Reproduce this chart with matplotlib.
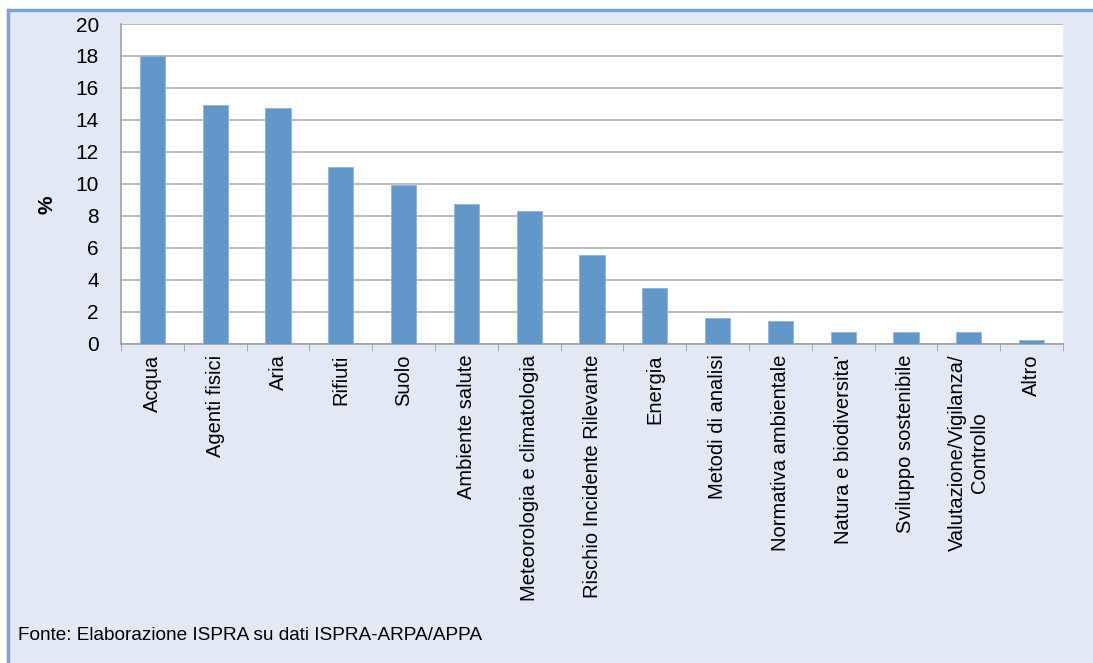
import numpy as np
import matplotlib.pyplot as plt
from matplotlib.patches import Rectangle

categories = ["Acqua", "Agenti fisici", "Aria", "Rifiuti", "Suolo", "Ambiente salute",
              "Meteorologia e climatologia", "Rischio Incidente Rilevante", "Energia",
              "Metodi di analisi", "Normativa ambientale", "Natura e biodiversita'",
              "Sviluppo sostenibile", "Valutazione/Vigilanza/\nControllo", "Altro"]
values = [18.0, 14.95, 14.75, 11.05, 9.9, 8.75, 8.3, 5.55, 3.45, 1.6, 1.4, 0.7, 0.7, 0.7, 0.22]
yticks = [0, 2, 4, 6, 8, 10, 12, 14, 16, 18, 20]
source = "Fonte: Elaborazione ISPRA su dati ISPRA-ARPA/APPA"

plt.rcParams['font.family'] = ['Liberation Sans', 'DejaVu Sans']

bg = '#E2E9F5'
fig = plt.figure(figsize=(10.93, 6.63), dpi=100, facecolor='white')

# outer panel with blue border on top and left
fig.patches.append(Rectangle((8 / 1093, 0), 1 - 8 / 1093, 1 - 10 / 663, transform=fig.transFigure,
                             facecolor=bg, edgecolor='none', zorder=-10))
fig.add_artist(plt.Line2D([8 / 1093, 1], [1 - 10 / 663] * 2, transform=fig.transFigure,
                          color='#7BA3D8', lw=2.5))
fig.add_artist(plt.Line2D([8 / 1093] * 2, [0, 1 - 10 / 663], transform=fig.transFigure,
                          color='#7BA3D8', lw=2.5))

ax = fig.add_axes([121 / 1093, 1 - 343.5 / 663, (1063 - 121) / 1093, (343.5 - 24) / 663])
ax.set_facecolor('white')

x = np.arange(len(categories))
ax.bar(x, values, width=0.4, color='#6297C9', edgecolor='#8DB3DC', linewidth=0.6, zorder=3)

ax.set_xlim(-0.5, len(categories) - 0.5)
ax.set_ylim(0, 20)
ax.set_yticks(yticks)
ax.set_yticklabels([str(t) for t in yticks], fontsize=15)
ax.yaxis.grid(True, color='#B0B0B0', linewidth=1.2, zorder=0)
ax.tick_params(axis='y', length=0, pad=16)

ax.set_xticks(x)
ax.set_xticklabels(categories, rotation=90, fontsize=14.5, ha='center', va='top',
                   multialignment='center')
ax.set_xticks(np.arange(-0.5, len(categories)), minor=True)
ax.tick_params(axis='x', which='major', length=0, pad=8)
ax.tick_params(axis='x', which='minor', length=5, color='#A0A0A0')

for s in ['top', 'right']:
    ax.spines[s].set_visible(False)
for s in ['left', 'bottom']:
    ax.spines[s].set_color('#A0A0A0')
    ax.spines[s].set_linewidth(1.2)

ax.set_ylabel('%', fontsize=15, fontweight='bold')
ax.yaxis.set_label_coords(-0.068, 0.433)

fig.text(18 / 1093, 1 - 636 / 663, source, fontsize=13.7,
         family=['Liberation Sans Narrow', 'Liberation Sans'], va='center', ha='left')

fig.savefig('out.png', dpi=100, facecolor=fig.get_facecolor())
